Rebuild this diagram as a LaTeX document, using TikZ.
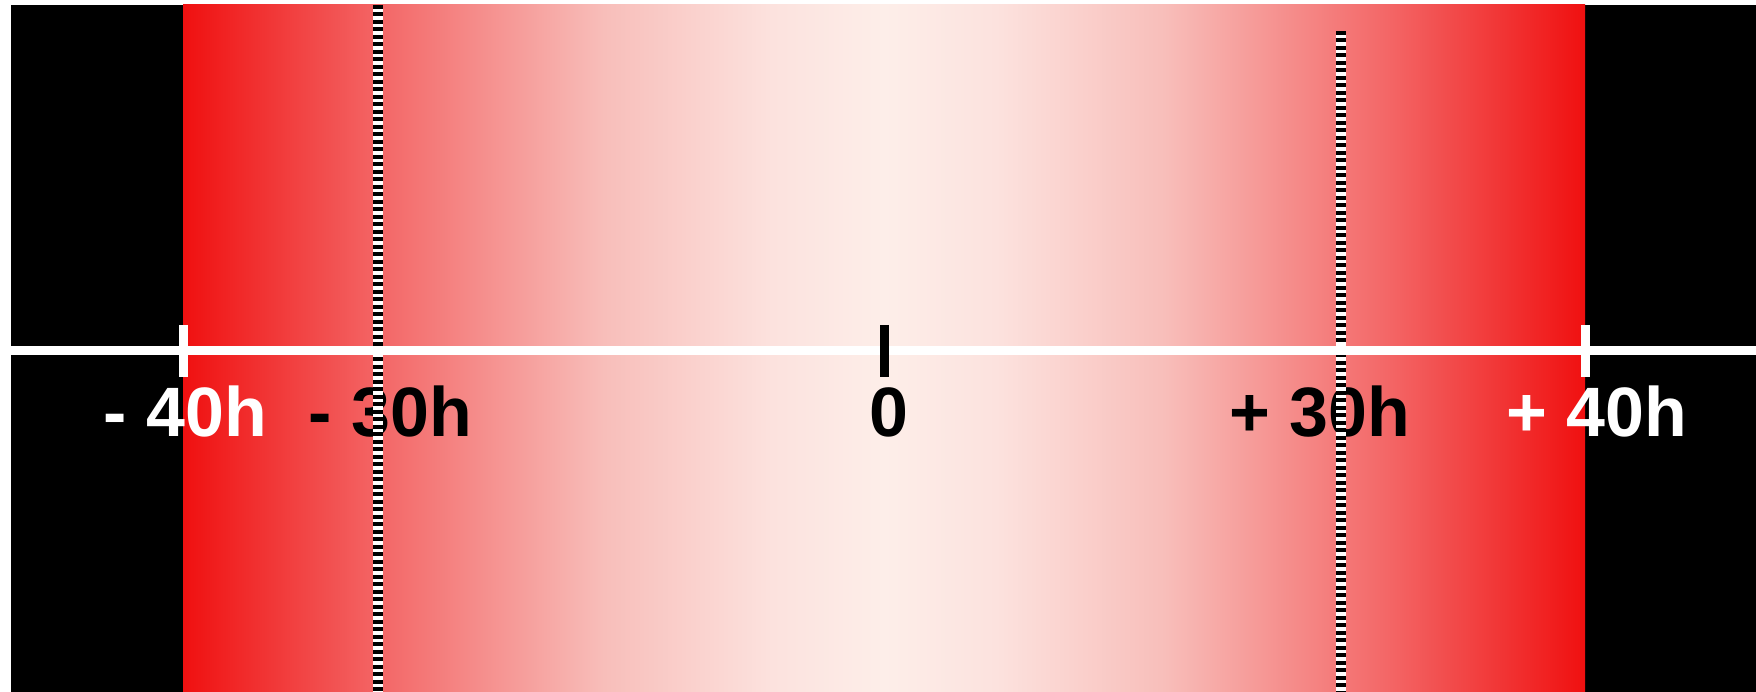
\documentclass[tikz,border=0pt]{standalone}
\usepackage{fontspec}
\setmainfont{Liberation Sans}
\definecolor{r0}{RGB}{240,16,16}
\definecolor{r1}{RGB}{243,102,102}
\definecolor{r2}{RGB}{248,190,186}
\definecolor{r3}{RGB}{252,226,222}
\definecolor{r4}{RGB}{253,238,233}
\pgfdeclarehorizontalshading{fadeL}{100bp}{color(0bp)=(r0); color(25bp)=(r0); color(39bp)=(r1); color(55bp)=(r2); color(67bp)=(r3); color(75bp)=(r4); color(100bp)=(r4)}
\pgfdeclarehorizontalshading{fadeR}{100bp}{color(0bp)=(r4); color(25bp)=(r4); color(33bp)=(r3); color(45bp)=(r2); color(61bp)=(r1); color(75bp)=(r0); color(100bp)=(r0)}
\tikzset{
  lbl/.style={anchor=base, inner sep=0pt, font=\fontsize{39.8}{40}\selectfont\bfseries},
  tickmark/.style={line width=0.18cm},
  stripeline/.style={line width=0.2cm, black, dash pattern=on 0.08cm off 0.07cm},
  stripebase/.style={line width=0.2cm, white}
}
\begin{document}
\begin{tikzpicture}[x=0.02cm,y=-0.02cm]
\useasboundingbox (0,0) rectangle (1756,692);
\fill[white] (0,0) rectangle (1756,692);
% black background
\fill[black] (11,5) rectangle (1756,692);
% gradient bands
\shade[shading=fadeL] (183,5) rectangle (884.5,692);
\shade[shading=fadeR] (884,5) rectangle (1585,692);
% labels
\node[lbl, white] (m40) at (185.5,437) {- 40h};
\node[lbl, black] (m30) at (390.5,437) {- 30h};
\node[lbl, black] (zero) at (889,437) {0};
\node[lbl, black] (p30) at (1320,437) {+ 30h};
\node[lbl, white] (p40) at (1597,437) {+ 40h};
% striped lines
\coordinate (a1) at (378,5);
\coordinate (a2) at (378,692);
\coordinate (b1) at (1341,31);
\coordinate (b2) at (1341,692);
\draw[stripebase] (a1) -- (a2);
\draw[stripeline] (a1) -- (a2);
\draw[stripebase] (b1) -- (b2);
\draw[stripeline] (b1) -- (b2);
% axis
\coordinate (axL) at (11,350.5);
\coordinate (axR) at (1756,350.5);
\draw[white, line width=0.18cm] (axL) -- (axR);
\coordinate (t1a) at (183.5,325);
\coordinate (t1b) at (183.5,377);
\coordinate (t2a) at (884.5,325);
\coordinate (t2b) at (884.5,377);
\coordinate (t3a) at (1585,325);
\coordinate (t3b) at (1585,377);
\draw[tickmark, white] (t1a) -- (t1b);
\draw[tickmark, black] (t2a) -- (t2b);
\draw[tickmark, white] (t3a) -- (t3b);
\end{tikzpicture}
\end{document}
